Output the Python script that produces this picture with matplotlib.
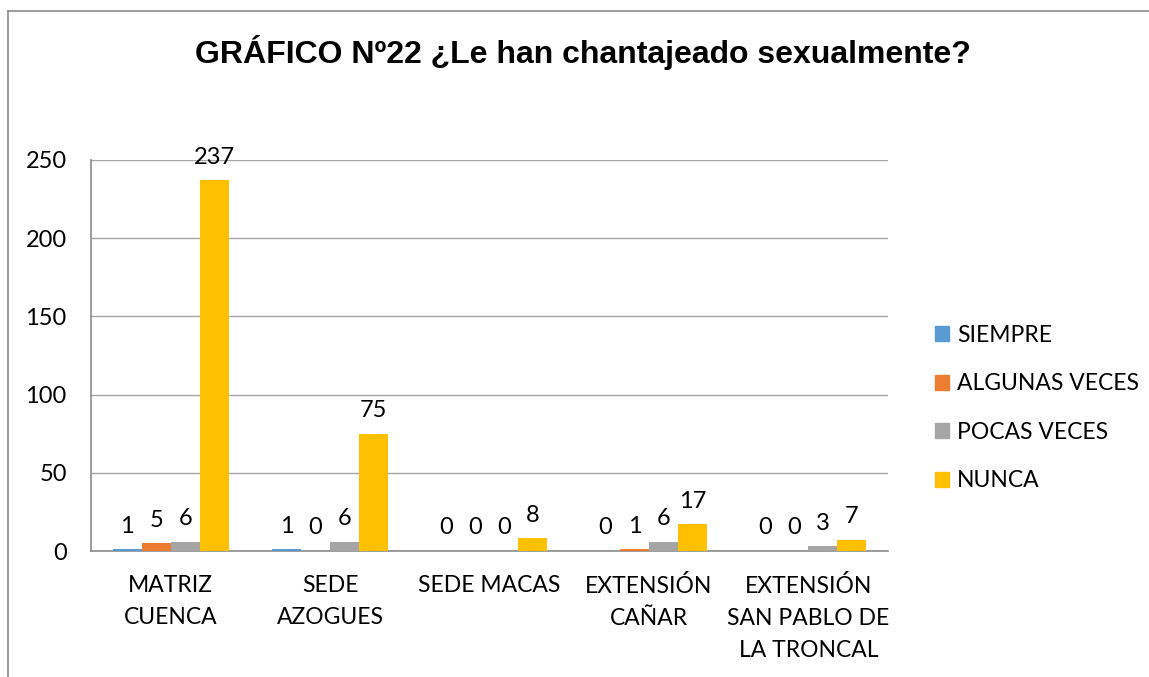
import matplotlib.pyplot as plt
import numpy as np
from matplotlib.lines import Line2D

categories = ["MATRIZ\nCUENCA", "SEDE\nAZOGUES", "SEDE MACAS", "EXTENSIÓN\nCAÑAR",
              "EXTENSIÓN\nSAN PABLO DE\nLA TRONCAL"]
series_names = ["SIEMPRE", "ALGUNAS VECES", "POCAS VECES", "NUNCA"]
siempre = [1, 1, 0, 0, 0]
algunas = [5, 0, 0, 1, 0]
pocas = [6, 6, 0, 6, 3]
nunca = [237, 75, 8, 17, 7]
colors = ["#5B9BD5", "#ED7D31", "#A5A5A5", "#FFC000"]

W, H = 1149, 677
fig = plt.figure(figsize=(W / 100, H / 100), dpi=100)
ax = fig.add_axes([91 / W, 1 - 551 / H, (888 - 91) / W, (551 - 160) / H])

# outer chart frame (cropped on the right and bottom)
fig.add_artist(Line2D([8 / W, 8 / W], [0, 1 - 11 / H], color="#8C8C8C", lw=1.2))
fig.add_artist(Line2D([8 / W, 1], [1 - 11 / H, 1 - 11 / H], color="#8C8C8C", lw=1.2))

body_font = "Lato"
fs = 17

x = np.arange(len(categories))
bw = 1 / 5.5
data = [siempre, algunas, pocas, nunca]
for i, (vals, name, c) in enumerate(zip(data, series_names, colors)):
    pos = x + (i - 1.5) * bw
    ax.bar(pos, vals, width=bw, color=c, label=name, zorder=3)
    for p, v in zip(pos, vals):
        ax.annotate(str(v), (p, v), xytext=(0, 12), textcoords="offset points",
                    ha="center", va="baseline", fontsize=fs, family=body_font)

ax.set_xlim(-0.5, len(categories) - 0.5)
ax.set_ylim(0, 250)
ax.set_yticks(range(0, 251, 50))
ax.yaxis.grid(True, color="#A6A6A6", lw=1, zorder=0)
ax.set_axisbelow(True)
ax.set_xticks(x)
ax.set_xticklabels(categories, fontsize=16.5, family=body_font, linespacing=1.65)
for lab in ax.get_yticklabels():
    lab.set_fontsize(fs)
    lab.set_family(body_font)
ax.tick_params(axis="both", length=0)
ax.tick_params(axis="y", pad=17.5)
ax.tick_params(axis="x", pad=17)
for s in ["top", "right"]:
    ax.spines[s].set_visible(False)
for s in ["left", "bottom"]:
    ax.spines[s].set_color("#8C8C8C")
    ax.spines[s].set_linewidth(1.2)

fig.text(583 / W, 1 - 52 / H, "GRÁFICO Nº22 ¿Le han chantajeado sexualmente?",
         ha="center", va="center", fontsize=23, fontweight="bold", family="Liberation Sans")

handles = [plt.Rectangle((0, 0), 1, 1, color=c) for c in colors]
fig.legend(handles, series_names, loc="center left", bbox_to_anchor=(914 / W, 1 - 408 / H),
           frameon=False, prop={"family": body_font, "size": 16.5}, handlelength=0.62,
           handleheight=0.62, handletextpad=0.35, labelspacing=1.2)

fig.savefig("out.png", dpi=100)
